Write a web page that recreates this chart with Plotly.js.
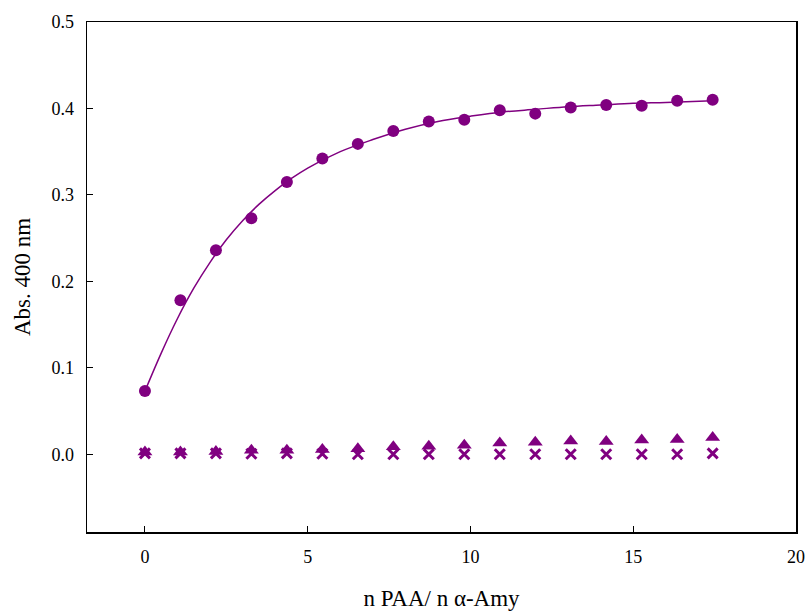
<!DOCTYPE html>
<html>
<head>
<meta charset="utf-8">
<script src="https://cdn.plot.ly/plotly-3.0.1.min.js"></script>
<style>html,body{margin:0;padding:0;background:#fff;}#chart{width:808px;height:612px;}</style>
</head>
<body>
<div id="chart"></div>
<script>
const xRatio = [0, 1.09, 2.18, 3.27, 4.36, 5.45, 6.54, 7.63, 8.72, 9.81, 10.9, 11.99, 13.08, 14.17, 15.26, 16.35, 17.44];
const absCircle = [0.073, 0.178, 0.236, 0.273, 0.315, 0.342, 0.359, 0.374, 0.385, 0.387, 0.398, 0.394, 0.401, 0.404, 0.403, 0.409, 0.410];
const absTriangle = [0.0025, 0.0025, 0.003, 0.0045, 0.0046, 0.0054, 0.0062, 0.0085, 0.0093, 0.0104, 0.0131, 0.0139, 0.0154, 0.0146, 0.0165, 0.017, 0.0192];
const absCross = [0.001, 0.001, 0.001, 0.0005, 0.001, 0.0005, 0, 0, 0, 0, 0, 0, 0, 0, 0, 0, 0.001];
const fitX = [0, 0.5, 1, 1.5, 2, 2.5, 3, 3.5, 4, 4.5, 5, 6, 7, 8, 9, 10, 11, 12, 13, 14, 15, 16, 17.44];
const fitY = [0.073, 0.117, 0.157, 0.192, 0.222, 0.248, 0.270, 0.289, 0.305, 0.319, 0.331, 0.350, 0.364, 0.376, 0.385, 0.391, 0.396, 0.399, 0.402, 0.404, 0.406, 0.407, 0.409];

const purple = '#800080';
const data = [
  {x: fitX, y: fitY, type: 'scatter', mode: 'lines', line: {color: purple, width: 1.5, shape: 'spline', smoothing: 1}, hoverinfo: 'skip'},
  {x: xRatio, y: absCross, type: 'scatter', mode: 'markers', marker: {symbol: 'x-thin-open', size: 10, color: purple, line: {color: purple, width: 3}}},
  {x: xRatio, y: absTriangle, type: 'scatter', mode: 'markers', marker: {symbol: 'triangle-up', size: 13, color: purple}},
  {x: xRatio, y: absCircle, type: 'scatter', mode: 'markers', marker: {symbol: 'circle', size: 12, color: purple}}
];
const serif = '"Liberation Serif", "Times New Roman", "DejaVu Serif", serif';
const tickFont = {family: serif, size: 18, color: '#000'};
const titleFont = {family: serif, size: 23, color: '#000'};
const layout = {
  width: 808, height: 612,
  margin: {l: 87, r: 12, t: 22, b: 80},
  paper_bgcolor: '#fff', plot_bgcolor: '#fff',
  showlegend: false,
  font: tickFont,
  xaxis: {
    range: [-1.78, 20], tickvals: [0, 5, 10, 15, 20], ticks: 'inside', ticklen: 6, tickcolor: '#000',
    showline: true, linecolor: '#000', linewidth: 1.5, mirror: true, showgrid: false, zeroline: false,
    tickfont: tickFont, ticklabelstandoff: 8,
    title: {text: 'n PAA/ n α-Amy', font: titleFont, standoff: 24}
  },
  yaxis: {
    range: [-0.09, 0.5], tickvals: [0, 0.1, 0.2, 0.3, 0.4, 0.5], tickformat: '.1f', ticks: 'inside', ticklen: 6, tickcolor: '#000',
    showline: true, linecolor: '#000', linewidth: 1.5, mirror: true, showgrid: false, zeroline: false,
    tickfont: tickFont, ticklabelstandoff: 8,
    title: {text: 'Abs. 400 nm', font: titleFont, standoff: 14}
  }
};
Plotly.newPlot('chart', data, layout, {displayModeBar: false, staticPlot: true});
</script>
</body>
</html>
